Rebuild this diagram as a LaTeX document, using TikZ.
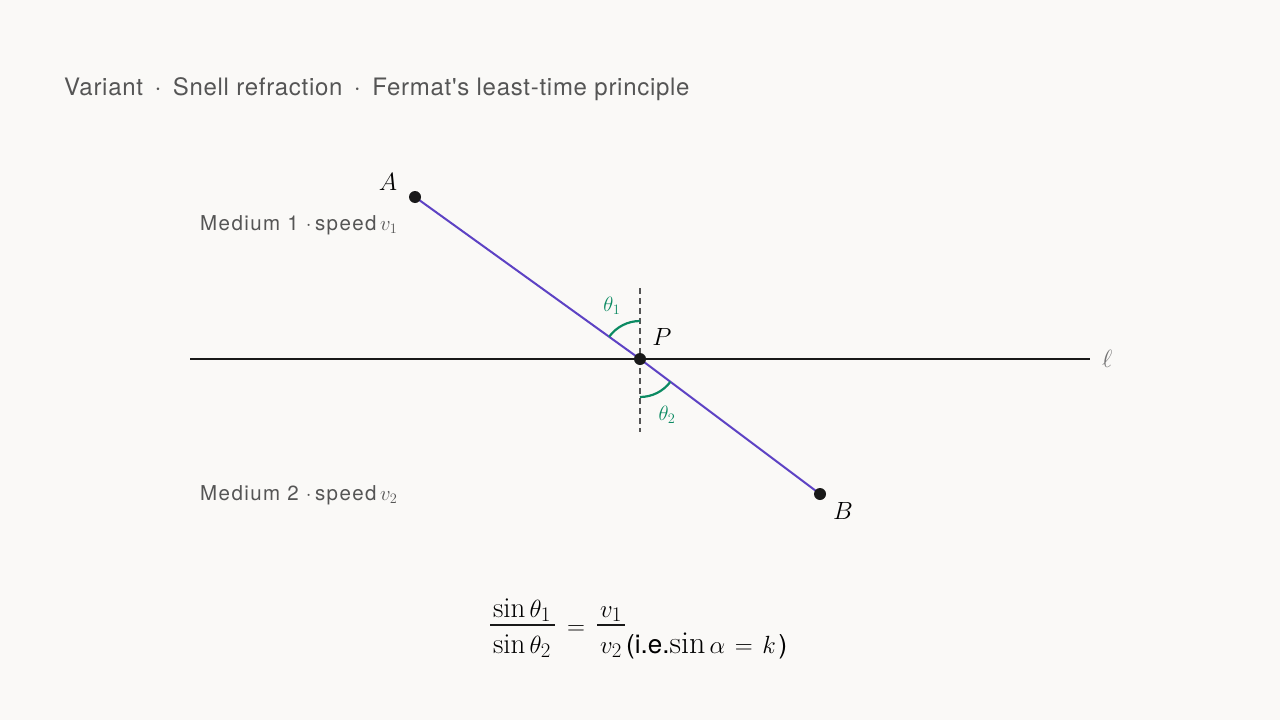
\documentclass[tikz,border=0pt]{standalone}
\usepackage{fontspec}
\newfontfamily\hv{TeX Gyre Heros}
\newfontfamily\hvls[LetterSpace=7]{TeX Gyre Heros}
\newfontfamily\hvt[LetterSpace=3]{TeX Gyre Heros}
\definecolor{bg}{HTML}{FAF9F7}
\definecolor{txtgray}{HTML}{555555}
\definecolor{ray}{HTML}{5D42C4}
\definecolor{ang}{HTML}{0B8A62}
\begin{document}
\begin{tikzpicture}[x=1pt,y=-1pt,
  dot/.style={circle,fill=black!90,inner sep=0pt,minimum size=12pt},
  lbl/.style={inner sep=0pt,font=\fontsize{24}{28}\selectfont},
  medium/.style={inner sep=0pt,anchor=base west,text=txtgray,font=\hvls\fontsize{20.5}{24}\selectfont},
  anglbl/.style={inner sep=0pt,text=ang,font=\fontsize{22}{26}\selectfont},
  fml/.style={inner sep=0pt,anchor=base,font=\fontsize{29}{34}\selectfont},
  fracrule/.style={line width=1.2pt,black!90}]
\fill[bg] (0,0) rectangle (1280,720);
\useasboundingbox (0,0) rectangle (1280,720);
% title
\node[inner sep=0pt,anchor=base west,text=txtgray,font=\hvt\fontsize{24}{28}\selectfont] (title) at (64,95) {Variant \,$\cdot$\, Snell refraction \,$\cdot$\, Fermat's least-time principle};
% interface line
\coordinate (L1) at (190,359);
\coordinate (L2) at (1090,359);
\draw[line width=2.4pt,black!90] (L1) -- (L2);
\node[lbl,text=black!55,anchor=west] (ell) at (1102,359) {$\ell$};
% normal
\coordinate (N1) at (640,288);
\coordinate (N2) at (640,432);
\draw[txtgray,line width=1.2pt,dash pattern=on 6pt off 4pt] (N1) -- (N2);
% points
\coordinate (A) at (415,197);
\coordinate (P) at (640,359);
\coordinate (B) at (820,494);
\draw[ray,line width=2pt] (A) -- (P) -- (B);
% angles
\draw[ang,line width=2.2pt] (640,321) arc[start angle=-90,end angle={-90-54.2},radius=38];
\draw[ang,line width=2.2pt] (640,397) arc[start angle=90,end angle={90-53.1},radius=38];
\node[anglbl] (t1) at (612,306) {$\theta_1$};
\node[anglbl] (t2) at (667,415) {$\theta_2$};
\node[dot] (Ad) at (A) {};
\node[dot] (Pd) at (P) {};
\node[dot] (Bd) at (B) {};
\node[lbl] (Alab) at (388,182) {$A$};
\node[lbl] (Plab) at (662,337) {$P$};
\node[lbl] (Blab) at (843,511) {$B$};
% media
\node[medium] (m1) at (200,230) {Medium 1 ·\,speed\,$v_1$};
\node[medium] (m2) at (200,500) {Medium 2 ·\,speed\,$v_2$};
% formula
\node[fml] (n1) at (522,617) {$\sin\theta_1$};
\node[fml] (d1) at (522,653) {$\sin\theta_2$};
\coordinate (r1a) at (490,625);
\coordinate (r1b) at (555,625);
\draw[fracrule] (r1a) -- (r1b);
\node[fml] (eq) at (576,634) {$=$};
\node[fml] (n2) at (611,617) {$v_1$};
\node[fml] (d2) at (611,653) {$v_2$};
\coordinate (r2a) at (597,625);
\coordinate (r2b) at (625,625);
\draw[fracrule] (r2a) -- (r2b);
\node[fml,anchor=base west,font=\fontsize{32}{36}\selectfont] (rest) at (626,653) {{\hv\fontsize{26}{30}\selectfont(i.e.}$\sin\alpha\mskip2mu=\mskip2mu k\mskip2mu${\hv\fontsize{26}{30}\selectfont)}};
\end{tikzpicture}
\end{document}
